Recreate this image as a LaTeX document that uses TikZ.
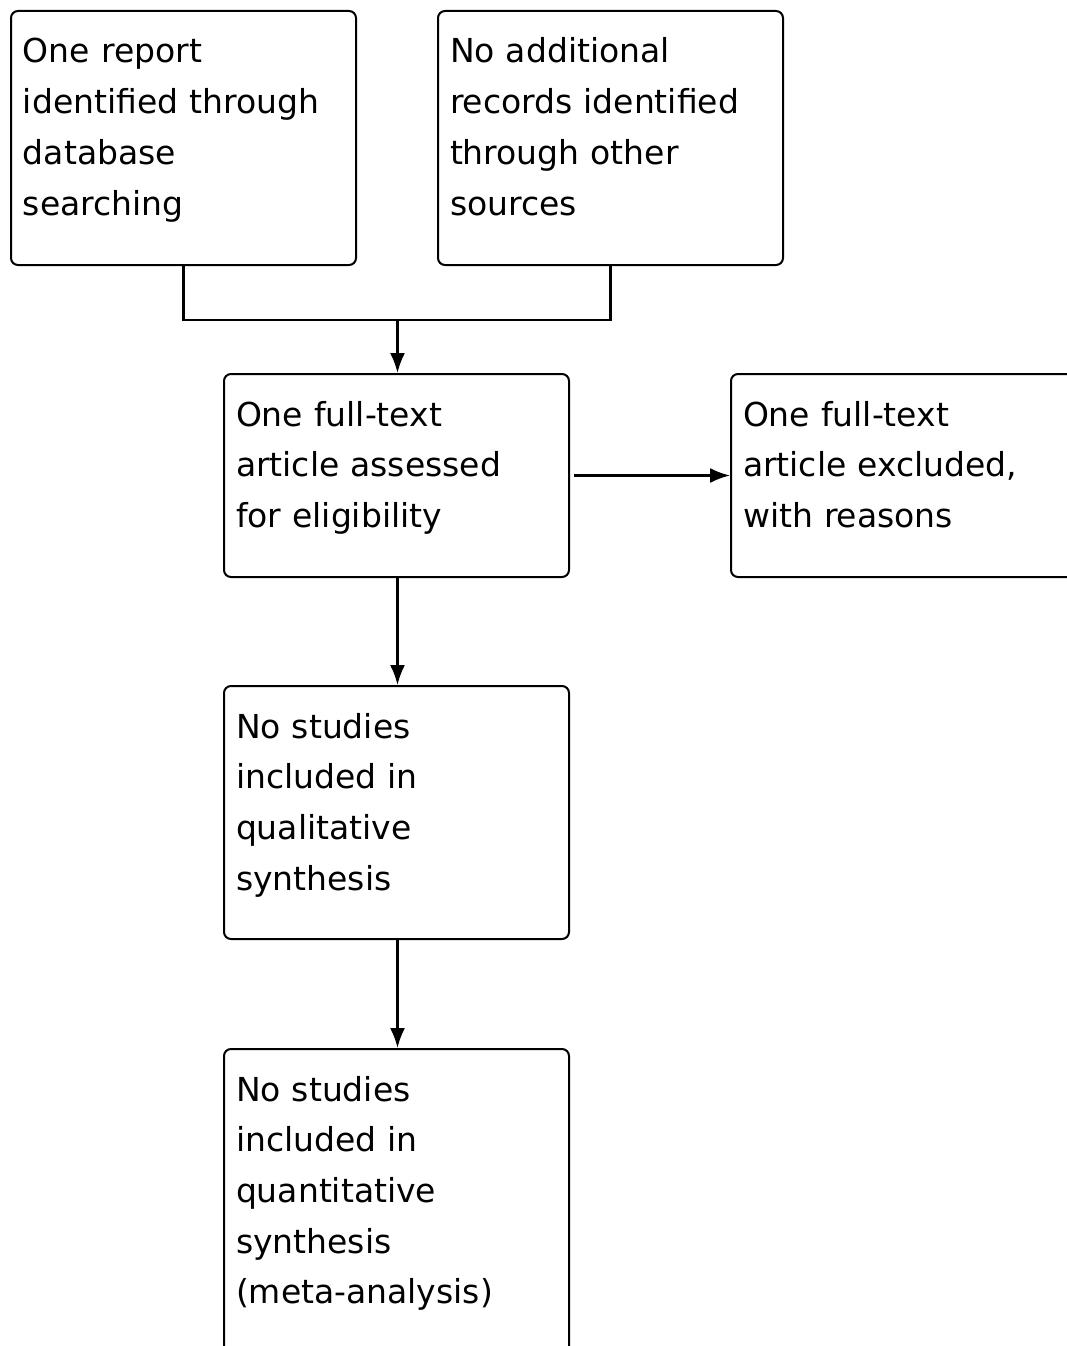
\documentclass[tikz,border=0pt]{standalone}
\usepackage{fontspec}
\setmainfont{DejaVu Sans}
\usepackage{tikz}
\usetikzlibrary{arrows.meta}

\begin{document}
\begin{tikzpicture}[x=1pt, y=-1pt,
      box/.style={draw, rounded corners=7pt, line width=2pt,
                  anchor=north west, text width=321pt, align=left,
                  inner xsep=12pt, inner ysep=0pt, text height=52pt,
                  font=\fontsize{33}{50.7}\selectfont},
      link/.style={draw, line width=2.2pt},
      arr/.style={draw, -{Latex[length=20pt, width=15pt]}, line width=2.2pt}
    ]

    %% ---- page frame (picture is cut at right and bottom) ----
    \useasboundingbox (0,0) rectangle (1067,1346);
    \clip (0,0) rectangle (1067,1346);

    %% ---- fixed coordinate layout (pixel units, y down) ----
    %% Identification row
    \node[box, text depth=202pt] at (10,10)  (report)
          {One report\\identified through\\database\\searching};
    \node[box, text depth=202pt] at (437,10) (other)
          {No additional\\records identified\\through other\\sources};

    %% Eligibility
    \node[box, text depth=151pt] at (223,373) (assess)
          {One full-text\\article assessed\\for eligibility};
    \node[box, text depth=151pt] at (730,373) (excluded)
          {One full-text\\article excluded,\\with reasons};

    %% Included
    \node[box, text depth=201pt] at (223,685) (qualit)
          {No studies\\included in\\qualitative\\synthesis};
    \node[box, text depth=254pt] at (223,1048) (quantit)
          {No studies\\included in\\quantitative\\synthesis\\(meta-analysis)};

    %% ---- edges ----
    \coordinate (merge) at ([xshift=1pt]assess.north |- 0,320);

    %% both sources join, then down to assessment
    \draw[link] (report.south) |- (merge) -| (other.south);
    \draw[arr] (merge) -- (merge |- assess.north);

    %% assessment -> excluded
    \draw[arr, shorten <=4pt] (assess.east) -- (excluded.west);

    %% down the included column
    \draw[arr] (merge |- assess.south) -- (merge |- qualit.north);
    \draw[arr] (merge |- qualit.south) -- (merge |- quantit.north);

  \end{tikzpicture}
\end{document}
